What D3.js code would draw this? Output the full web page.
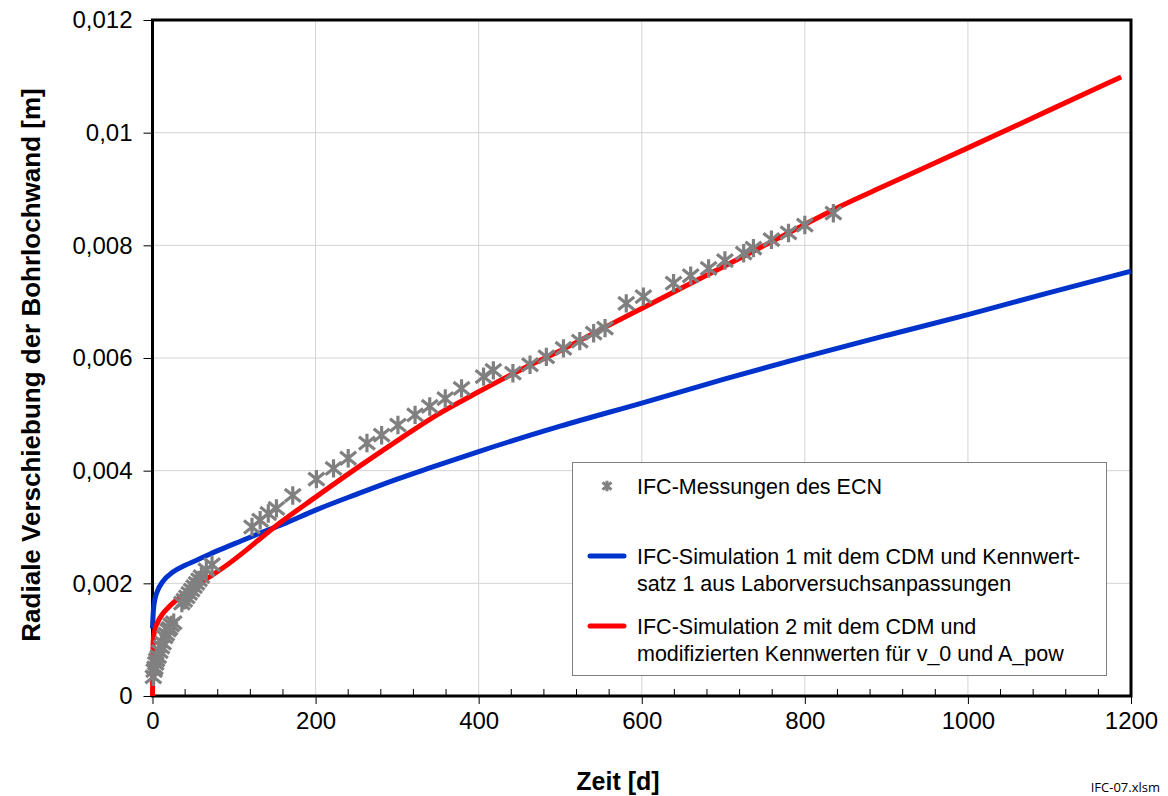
<!DOCTYPE html>
<html><head><meta charset="utf-8">
<script src="https://cdn.jsdelivr.net/npm/d3@7"></script>
<style>body{margin:0;background:#fff;} svg{display:block;font-family:"Liberation Sans",Arial,sans-serif;}</style>
</head><body>
<svg id="chart" width="1168" height="796"></svg>
<script>
// Measurements (days, m)
const measX = [1,2,3,4,5,7,9,11,13,15,17,19,21,23,26,
  36,39,42,45,48,51,54,57,60,66,73,
  122,132,142,152,172,201,222,240,263,281,301,322,340,359,379,406,418,442,463,483,504,524,541,555,581,602,639,660,682,702,725,737,759,780,800,835];
const measY = [0.00034,0.00045,0.0005,0.00058,0.00064,0.0007,0.00079,0.00087,0.00094,0.00105,0.0011,0.00117,0.0012,0.00126,0.0013,
  0.00165,0.0017,0.00176,0.00182,0.00188,0.00194,0.002,0.00206,0.00212,0.00224,0.00233,
  0.003,0.00312,0.00324,0.00333,0.00356,0.00385,0.00404,0.00422,0.00449,0.00463,0.00481,0.00499,0.00514,0.00528,0.00546,0.00567,0.00578,0.00573,0.00588,0.00602,0.00617,0.0063,0.00644,0.00653,0.00697,0.00709,0.00733,0.00746,0.00759,0.00773,0.00786,0.00795,0.0081,0.00822,0.00836,0.00857];
// Simulation 1 (blue)
const sim1X = [0,1,3,6,13,25,40,54,80,110,130,160,200,250,300,340,400,500,600,700,800,900,1000,1100,1200];
const sim1Y = [0.0012,0.0015,0.00172,0.00186,0.00204,0.0022,0.00232,0.00241,0.00258,0.00276,0.00288,0.00305,0.0033,0.00358,0.00385,0.00405,0.00434,0.00479,0.0052,0.00562,0.00602,0.0064,0.00677,0.00716,0.00754];
// Simulation 2 (red)
const sim2X = [0,0.5,1,3,6,12,20,38,58,87,115,136,156,200,250,304,350,400,450,500,553,600,700,800,843,900,1000,1100,1188];
const sim2Y = [0,0.0007,0.001,0.00118,0.0013,0.00145,0.00158,0.0018,0.002,0.00228,0.00259,0.00284,0.00307,0.00353,0.00404,0.00457,0.005,0.0054,0.00578,0.00613,0.00653,0.00688,0.00762,0.00837,0.00869,0.00907,0.00973,0.0104,0.01099];
const xTicks = [0,200,400,600,800,1000,1200];
const yTicks = [0,0.002,0.004,0.006,0.008,0.01,0.012];
const yTickLabels = ["0","0,002","0,004","0,006","0,008","0,01","0,012"];
const legendLabels = [["IFC-Messungen des ECN"],
  ["IFC-Simulation 1 mit dem CDM und Kennwert-","satz 1 aus Laborversuchsanpassungen"],
  ["IFC-Simulation 2 mit dem CDM und","modifizierten Kennwerten für v_0 und A_pow"]];
const xTitle = "Zeit [d]";
const yTitle = "Radiale Verschiebung der Bohrlochwand [m]";
const fileNote = "IFC-07.xlsm";

const svg = d3.select("#chart");
const L = 152.5, R = 1131, T = 20, B = 696;
const x = d3.scaleLinear().domain([0,1200]).range([L,R]);
const y = d3.scaleLinear().domain([0,0.012]).range([B,T]);

// grid
svg.append("g").selectAll("line").data(xTicks.slice(1,-1)).join("line")
  .attr("x1",d=>x(d)).attr("x2",d=>x(d)).attr("y1",T).attr("y2",B)
  .attr("stroke","#d4d4d4").attr("stroke-width",1);
svg.append("g").selectAll("line").data(yTicks.slice(1,-1)).join("line")
  .attr("y1",d=>y(d)).attr("y2",d=>y(d)).attr("x1",L).attr("x2",R)
  .attr("stroke","#d4d4d4").attr("stroke-width",1);

// axes
const xAxis = d3.axisBottom(x).tickValues(xTicks).tickSize(8).tickPadding(8).tickFormat(d3.format("d"));
const gx = svg.append("g").attr("transform",`translate(0,${B})`).call(xAxis);
gx.select(".domain").remove();
gx.selectAll("line").attr("stroke","#000");
gx.selectAll("text").attr("font-size",24).attr("fill","#000").attr("font-family","Liberation Sans, Arial, sans-serif");
const minor = d3.range(0,1201,40).filter(d=>d%200!==0);
svg.append("g").selectAll("line").data(minor).join("line")
  .attr("x1",d=>x(d)).attr("x2",d=>x(d)).attr("y1",B).attr("y2",B-7).attr("stroke","#000");

const yAxis = d3.axisLeft(y).tickValues(yTicks).tickSize(9).tickPadding(11).tickFormat((d,i)=>yTickLabels[i]);
const gy = svg.append("g").attr("transform",`translate(${L},0)`).call(yAxis);
gy.select(".domain").remove();
gy.selectAll("line").attr("stroke","#000");
gy.selectAll("text").attr("font-size",24).attr("fill","#000").attr("font-family","Liberation Sans, Arial, sans-serif");

// frame
svg.append("rect").attr("x",L).attr("y",T).attr("width",R-L).attr("height",B-T)
  .attr("fill","none").attr("stroke","#000").attr("stroke-width",3);

// lines
const line = d3.line().x(d=>x(d[0])).y(d=>y(d[1])).curve(d3.curveMonotoneX);
svg.append("path").datum(d3.zip(sim1X,sim1Y)).attr("d",line)
  .attr("fill","none").attr("stroke","#0033cc").attr("stroke-width",5);
svg.append("path").datum(d3.zip(sim2X,sim2Y)).attr("d",line)
  .attr("fill","none").attr("stroke","#ff0000").attr("stroke-width",5);

// markers
const star = s => `M${-s},${-s*0.8}L${s},${s*0.8}M${-s},${s*0.8}L${s},${-s*0.8}M0,${-s*1.15}L0,${s*1.15}`;
svg.append("g").selectAll("path").data(d3.zip(measX,measY)).join("path")
  .attr("transform",d=>`translate(${x(d[0])},${y(d[1])})`)
  .attr("d",star(8)).attr("stroke","#808080").attr("stroke-width",3.2).attr("fill","none");

// legend
const lg = svg.append("g");
lg.append("rect").attr("x",572.5).attr("y",462.5).attr("width",534).attr("height",213)
  .attr("fill","#fff").attr("stroke","#7f7f7f").attr("stroke-width",1);
lg.append("path").attr("transform","translate(607,486)").attr("d",star(4.5))
  .attr("stroke","#808080").attr("stroke-width",3).attr("fill","none");
lg.append("line").attr("x1",590).attr("x2",624).attr("y1",556).attr("y2",556).attr("stroke","#0033cc").attr("stroke-width",5).attr("stroke-linecap","round");
lg.append("line").attr("x1",590).attr("x2",624).attr("y1",626).attr("y2",626).attr("stroke","#ff0000").attr("stroke-width",5).attr("stroke-linecap","round");
const legY = [494, 564, 634];
legendLabels.forEach((lines,i)=>{
  lines.forEach((t,j)=>{
    lg.append("text").attr("x",637).attr("y",legY[i]+j*27).attr("font-size",21.5).attr("fill","#000").text(t);
  });
});

// titles
svg.append("text").attr("x",618).attr("y",790).attr("text-anchor","middle")
  .attr("font-size",25).attr("font-weight","bold").text(xTitle);
svg.append("text").attr("transform","translate(40,365) rotate(-90)").attr("text-anchor","middle")
  .attr("font-size",26).attr("font-weight","bold").text(yTitle);
svg.append("text").attr("x",1160).attr("y",792).attr("text-anchor","end")
  .attr("font-size",13).attr("font-family","Open Sans, sans-serif").text(fileNote);
</script>
</body></html>
